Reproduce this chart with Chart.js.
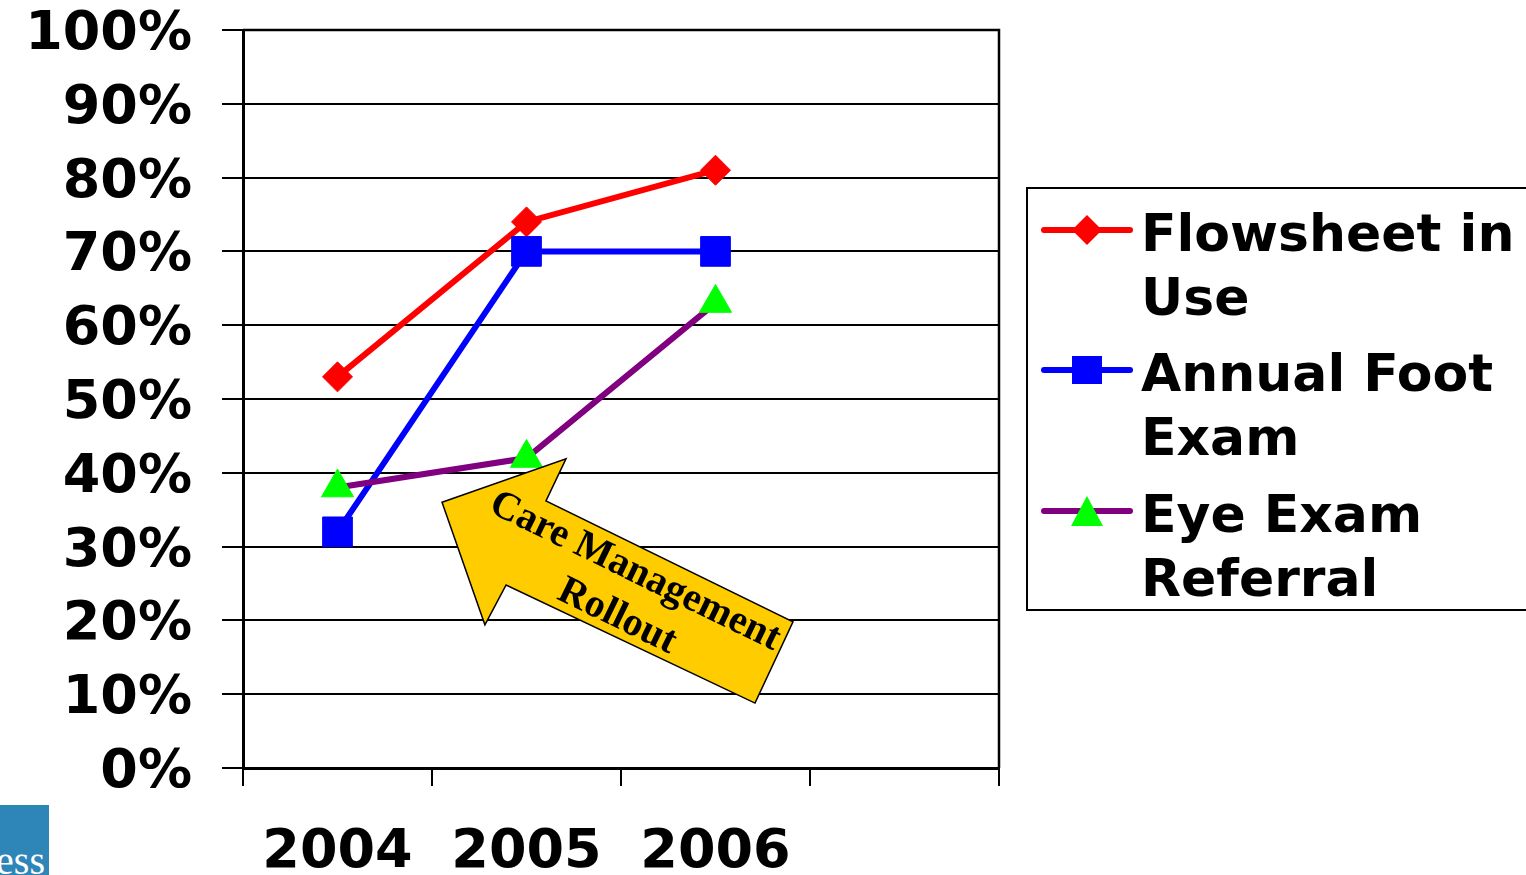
<!DOCTYPE html>
<html>
<head>
<meta charset="utf-8">
<script src="https://cdn.jsdelivr.net/npm/chart.js@4"></script>
<style>
  html, body { margin: 0; padding: 0; background: #fff; overflow: hidden; }
  #wrap { position: relative; width: 1526px; height: 875px; }
  #chart { position: absolute; left: 0; top: 0; }
  #legend {
    position: absolute; left: 1026px; top: 187px; width: 540px; height: 424px;
    border: 2px solid #000; box-sizing: border-box; background: #fff;
    font-family: 'DejaVu Sans', Verdana, sans-serif; font-weight: bold;
    font-size: 52px; line-height: 64px; color: #000;
  }
  .entry { position: absolute; left: 0; }
  .entry svg { position: absolute; left: 12px; top: 9px; }
  .entry .txt { position: absolute; left: 113px; top: 0; white-space: nowrap; }
  #logo {
    position: absolute; left: 0; top: 805px; width: 49px; height: 70px;
    background: #2e86b8; overflow: hidden;
  }
  #logo span {
    position: absolute; right: 4px; top: 36px; color: #fff;
    font-family: 'Liberation Serif', serif; font-size: 40px; line-height: 40px;
  }
</style>
</head>
<body>
<div id="wrap">
  <canvas id="chart" width="1526" height="875"></canvas>
  <div id="legend"></div>
  <div id="logo"><span>ess</span></div>
</div>
<script>
const years = ['2004', '2005', '2006', ''];
const flowsheet = [53, 74, 81];
const footExam = [32, 70, 70];
const eyeReferral = [38, 42, 63];
const seriesNames = [['Flowsheet in', 'Use'], ['Annual Foot', 'Exam'], ['Eye Exam', 'Referral']];

// yellow callout arrow, in (category index, percent) units
const arrowShape = [[0.553, 36.0], [1.209, 41.9], [1.103, 36.2], [2.410, 19.8],
                    [2.209, 8.8], [0.892, 24.8], [0.780, 19.4]];
const arrowLines = [['Care Management', 1.574, 26.6], ['Rollout', 1.479, 20.5]];

const tickFont = { family: 'DejaVu Sans', weight: 'bold', size: 54, lineHeight: 1 };

const arrowPlugin = {
  id: 'rolloutArrow',
  afterDatasetsDraw(chart) {
    const ctx = chart.ctx;
    const x = chart.scales.x, y = chart.scales.y;
    ctx.save();
    ctx.beginPath();
    arrowShape.forEach(function(p, i) {
      const px = x.getPixelForValue(p[0]), py = y.getPixelForValue(p[1]);
      if (i === 0) ctx.moveTo(px, py); else ctx.lineTo(px, py);
    });
    ctx.closePath();
    ctx.fillStyle = '#ffcc00';
    ctx.fill();
    ctx.lineWidth = 1.5;
    ctx.strokeStyle = '#000';
    ctx.stroke();
    ctx.fillStyle = '#000';
    ctx.font = 'bold 40px "Liberation Serif", "Times New Roman", serif';
    ctx.textAlign = 'center';
    ctx.textBaseline = 'middle';
    arrowLines.forEach(function(l) {
      ctx.save();
      ctx.translate(x.getPixelForValue(l[1]), y.getPixelForValue(l[2]));
      ctx.rotate(26 * Math.PI / 180);
      ctx.fillText(l[0], 0, 0);
      ctx.restore();
    });
    ctx.restore();
  }
};

// top and right edges of the plot area
const framePlugin = {
  id: 'plotFrame',
  beforeDatasetsDraw(chart) {
    const a = chart.chartArea, ctx = chart.ctx;
    ctx.save();
    ctx.strokeStyle = '#000';
    ctx.lineWidth = 2.5;
    ctx.beginPath();
    ctx.moveTo(a.left, a.top);
    ctx.lineTo(a.right, a.top);
    ctx.lineTo(a.right, a.bottom);
    ctx.stroke();
    ctx.restore();
  }
};

const datasets = [
  { label: seriesNames[0].join(' '), data: flowsheet, borderColor: '#ff0000', backgroundColor: '#ff0000',
    pointStyle: 'rectRot', pointRadius: 15, order: 3 },
  { label: seriesNames[1].join(' '), data: footExam, borderColor: '#0000ff', backgroundColor: '#0000ff',
    pointStyle: 'rect', pointRadius: 21, order: 2 },
  { label: seriesNames[2].join(' '), data: eyeReferral, borderColor: '#800080', backgroundColor: '#00ff00',
    pointBorderColor: '#00ff00', pointStyle: 'triangle', pointRadius: 18.5, order: 1 }
];
datasets.forEach(function(d) {
  d.borderWidth = 6;
  d.pointBorderWidth = 1;
  d.pointHoverRadius = d.pointRadius;
  if (!d.pointBorderColor) d.pointBorderColor = d.borderColor;
  d.pointBackgroundColor = d.backgroundColor;
  d.tension = 0;
});

new Chart(document.getElementById('chart'), {
  type: 'line',
  data: { labels: years, datasets: datasets },
  options: {
    responsive: false,
    animation: false,
    layout: { padding: { top: 0, right: 527, left: 0, bottom: 0 } },
    plugins: { legend: { display: false }, tooltip: { enabled: false } },
    scales: {
      x: {
        offset: true,
        afterFit: function(s) { s.height = 107; },
        grid: { offset: true, drawOnChartArea: false, drawTicks: true, tickLength: 18,
                color: '#000', lineWidth: 2 },
        border: { color: '#000', width: 3 },
        ticks: { color: '#000', font: tickFont, padding: 40, autoSkip: false, maxRotation: 0 }
      },
      y: {
        min: 0, max: 100,
        afterFit: function(s) { s.width = 243; s.paddingTop = 30; s.paddingBottom = 27; },
        grid: { color: '#000', lineWidth: 2, tickLength: 21 },
        border: { color: '#000', width: 3 },
        ticks: { stepSize: 10, color: '#000', font: tickFont, padding: 30, labelOffset: 5,
                 callback: function(v) { return v + '%'; } }
      }
    }
  },
  plugins: [framePlugin, arrowPlugin]
});

// HTML legend with wrapped labels
const legend = document.getElementById('legend');
const entryTops = [12, 152, 293];
const markers = [
  '<polygon points="47,5 62,20 47,35 32,20" fill="#ff0000"/>',
  '<rect x="32" y="6" width="30" height="28" fill="#0000ff"/>',
  '<polygon points="47,5 63,35 31,35" fill="#00ff00"/>'
];
datasets.forEach(function(d, i) {
  const e = document.createElement('div');
  e.className = 'entry';
  e.style.top = entryTops[i] + 'px';
  e.innerHTML = '<svg width="96" height="40"><line x1="4" y1="20" x2="90" y2="20" stroke="' + d.borderColor +
    '" stroke-width="6" stroke-linecap="round"/>' + markers[i] + '</svg>' +
    '<div class="txt">' + seriesNames[i].join('<br>') + '</div>';
  legend.appendChild(e);
});
</script>
</body>
</html>
